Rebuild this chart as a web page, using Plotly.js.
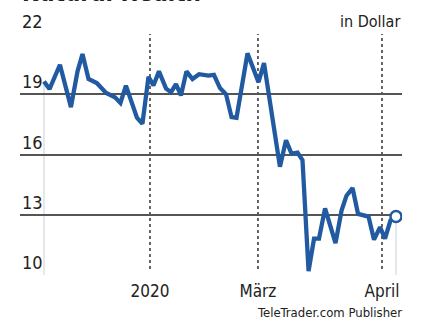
<!DOCTYPE html>
<html>
<head>
<meta charset="utf-8">
<script src="https://cdn.plot.ly/plotly-3.0.1.min.js"></script>
<style>html,body{margin:0;padding:0;background:#fff;}#chart{width:428px;height:321px;}</style>
</head>
<body>
<div id="chart"></div>
<script>
// x = trading-point index, y = price in Dollar
var xIdx = [0, 1.0, 2.9, 4.9, 6.1, 7.0, 8.1, 9.6, 11.3, 12.9, 13.9, 14.9, 16.9, 17.9, 19.0, 19.9, 20.9, 22.2, 23.1, 24.0, 24.9, 25.9, 27.0, 28.2, 29.9, 30.9, 32.0, 33.1, 34.1, 35.0, 37.0, 39.0, 40.0, 42.9, 44.0, 45.0, 46.1, 47.0, 48.1, 49.1, 50.0, 51.1, 53.0, 54.1, 55.0, 56.1, 57.1, 59.0, 60.0, 61.1, 62.0, 63.0, 64.0];
var price = [19.64, 19.26, 20.47, 18.36, 20.14, 21.0, 19.76, 19.56, 19.06, 18.85, 18.57, 19.43, 17.83, 17.53, 19.87, 19.44, 20.14, 19.28, 19.1, 19.5, 18.94, 20.14, 19.76, 20.0, 19.93, 19.97, 19.31, 19.0, 17.86, 17.83, 21.04, 19.6, 20.55, 15.39, 16.71, 16.05, 16.1, 15.72, 10.19, 11.81, 11.81, 13.32, 11.59, 13.21, 13.95, 14.33, 13.04, 12.91, 11.76, 12.38, 11.81, 12.72, 12.91];
var tickPos = [19.27, 38.9, 61.45];
var tickText = ["2020", "März", "April"];
var yTicks = [10, 13, 16, 19, 22];

var FONT = "'Liberation Sans Narrow', 'DejaVu Sans Condensed', 'Arial Narrow', 'Liberation Sans', sans-serif";
var last = xIdx.length - 1;

var traces = [
  {x: xIdx, y: price, type: 'scatter', mode: 'lines',
   line: {color: '#215aa0', width: 4.3, shape: 'linear'}, hoverinfo: 'skip'},
  {x: [xIdx[last]], y: [price[last]], type: 'scatter', mode: 'markers',
   marker: {symbol: 'circle', size: 11, color: '#ffffff', line: {color: '#215aa0', width: 2.5}}, hoverinfo: 'skip'}
];

var shapes = [];
tickPos.forEach(function (p) {
  shapes.push({type: 'line', xref: 'x', yref: 'y', x0: p, x1: p, y0: 10.3, y1: 22,
    line: {color: '#333', width: 1.5, dash: 'dot'}, layer: 'below'});
});
shapes.push({type: 'line', xref: 'x', yref: 'y', x0: xIdx[0], x1: xIdx[0], y0: 10, y1: price[0],
  line: {color: '#c9ced6', width: 1}, layer: 'below'});
shapes.push({type: 'line', xref: 'x', yref: 'y', x0: xIdx[last], x1: xIdx[last], y0: 10, y1: price[last],
  line: {color: '#c9ced6', width: 1}, layer: 'below'});

var annotations = yTicks.map(function (v) {
  return {xref: 'paper', yref: 'y', x: 0, y: v, xanchor: 'left', yanchor: 'bottom',
    text: String(v), showarrow: false, font: {family: FONT, size: 18, color: '#222'}, yshift: 0};
});
annotations.push({xref: 'paper', yref: 'paper', x: 1, y: 1, xanchor: 'right', yanchor: 'bottom',
  text: 'in Dollar', showarrow: false, font: {family: FONT, size: 16, color: '#222'}, yshift: 1});
annotations.push({xref: 'paper', yref: 'paper', x: 1, y: 0, xanchor: 'right', yanchor: 'top',
  text: 'TeleTrader.com Publisher', showarrow: false, font: {family: FONT, size: 13, color: '#222'}, yshift: -28, xshift: 2});
annotations.push({xref: 'paper', yref: 'paper', x: 0, y: 1, xanchor: 'left', yanchor: 'bottom',
  text: '<b>Natural Health</b>', showarrow: false, font: {family: FONT, size: 24, color: '#222'}, yshift: 25});

var layout = {
  width: 428, height: 321,
  margin: {l: 20, r: 26, t: 34, b: 46, pad: 0},
  paper_bgcolor: '#fff', plot_bgcolor: '#fff',
  showlegend: false,
  xaxis: {range: [-4.36, 65.09], showgrid: false, zeroline: false, showline: false,
    tickmode: 'array', tickvals: tickPos, ticktext: tickText, ticks: '',
    tickfont: {family: FONT, size: 17, color: '#222'}, ticklabelstandoff: 4, fixedrange: true},
  yaxis: {range: [10, 22], tickmode: 'array', tickvals: yTicks, showticklabels: false,
    showgrid: true, gridcolor: '#555', gridwidth: 2, zeroline: false, showline: false, ticks: '', fixedrange: true},
  shapes: shapes,
  annotations: annotations
};

Plotly.newPlot('chart', traces, layout, {displayModeBar: false, staticPlot: true});
</script>
</body>
</html>
